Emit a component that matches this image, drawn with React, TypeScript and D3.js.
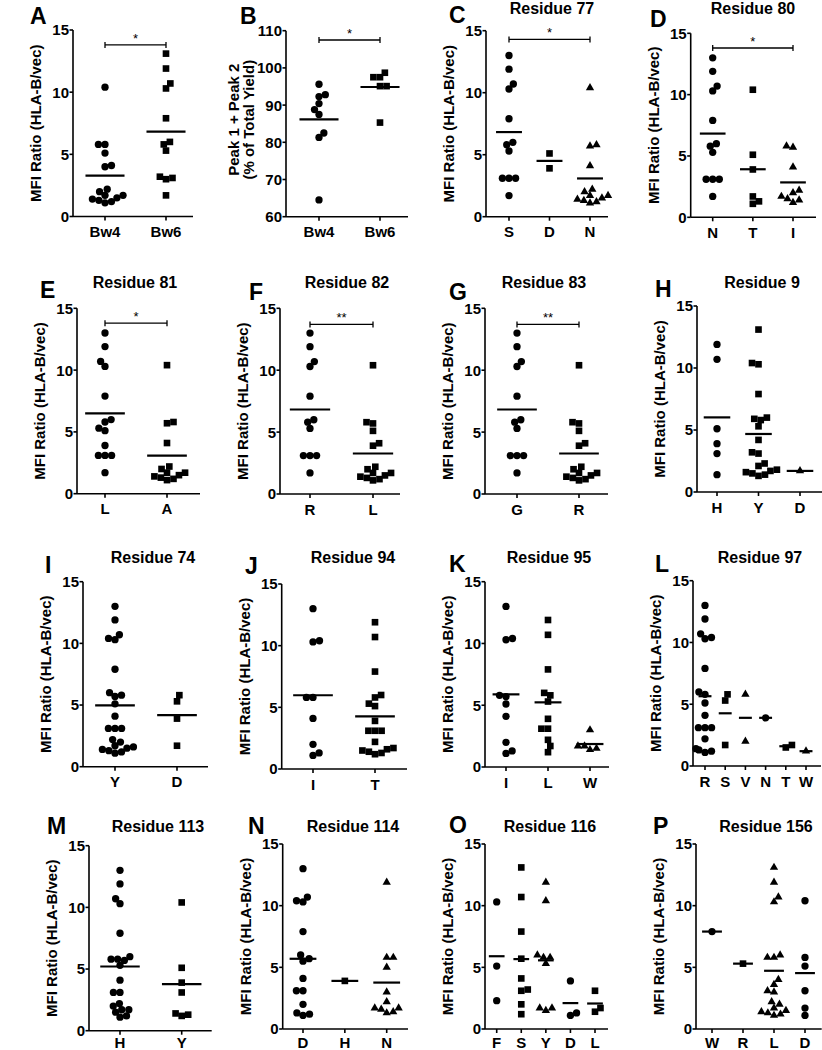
import React from 'react';
import * as d3 from 'd3';

// ---------- DATA ----------
const A_cats = ['Bw4', 'Bw6'];
const A_Bw4 = [10.4, 5.8, 5.8, 5.1, 4.1, 4.0, 2.2, 2.0, 1.7, 1.7, 1.5, 1.4, 1.3, 1.2, 1.1];
const A_Bw6 = [13.1, 11.9, 10.7, 10.3, 7.9, 6.0, 5.8, 5.3, 3.1, 3.0, 3.2, 1.7];

const B_cats = ['Bw4', 'Bw6'];
const B_Bw4 = [95.6, 92.8, 92.3, 90.4, 88.8, 87.5, 82.5, 81.3, 64.5];
const B_Bw6 = [98.7, 97.5, 97.5, 95.1, 95.1, 85.3];

const C_cats = ['S', 'D', 'N'];
const C_S = [13.0, 11.9, 10.7, 10.3, 7.9, 6.0, 5.8, 5.3, 3.1, 3.1, 3.1, 1.7];
const C_D = [5.1, 3.9];
const C_N = [10.4, 5.8, 5.7, 4.1, 2.2, 2.0, 1.7, 1.7, 1.5, 1.4, 1.3, 1.2, 1.1];

const D_cats = ['N', 'T', 'I'];
const D_N = [13.0, 11.9, 10.7, 10.3, 7.9, 6.0, 5.8, 5.3, 3.1, 3.1, 3.1, 1.7];
const D_T = [10.4, 5.1, 3.9, 1.7, 1.3, 1.1];
const D_I = [5.8, 5.7, 4.1, 2.2, 2.0, 1.7, 1.5, 1.4, 1.2];

const E_cats = ['L', 'A'];
const E_L = [13.0, 11.9, 10.7, 10.3, 7.9, 6.0, 5.8, 5.3, 5.1, 3.9, 3.1, 3.1, 3.1, 1.7];
const E_A = [10.4, 5.8, 5.7, 4.1, 2.2, 2.0, 1.7, 1.7, 1.5, 1.4, 1.3, 1.2, 1.1];

const F_cats = ['R', 'L'];
const F_R = [13.0, 11.9, 10.7, 10.3, 7.9, 6.0, 5.8, 5.3, 3.1, 3.1, 3.1, 1.7];
const F_L = [10.4, 5.8, 5.7, 5.1, 4.1, 3.9, 2.2, 2.0, 1.7, 1.7, 1.5, 1.4, 1.3, 1.2, 1.1];

const G_cats = ['G', 'R'];
const G_G = [13.0, 11.9, 10.7, 10.3, 7.9, 6.0, 5.8, 5.3, 3.1, 3.1, 3.1, 1.7];
const G_R = [10.4, 5.8, 5.7, 5.1, 4.1, 3.9, 2.2, 2.0, 1.7, 1.7, 1.5, 1.4, 1.3, 1.2, 1.1];

const H_cats = ['H', 'Y', 'D'];
const H_H = [11.9, 10.7, 5.1, 3.9, 3.1, 1.4];
const H_Y = [13.1, 10.4, 10.3, 7.9, 6.0, 5.9, 5.8, 5.3, 4.2, 3.2, 3.1, 2.3, 2.1, 1.8, 1.7, 1.6, 1.5, 1.4, 1.3];
const H_D = [1.7];

const I_cats = ['Y', 'D'];
const I_Y = [13.0, 11.9, 10.7, 10.4, 10.3, 7.9, 6.0, 5.8, 5.7, 5.1, 4.1, 3.1, 3.1, 3.1, 2.2, 2.0, 1.7, 1.6, 1.5, 1.4, 1.3, 1.2, 1.1];
const I_D = [5.8, 5.3, 3.9, 1.7];

const J_cats = ['I', 'T'];
const J_I = [13.0, 10.4, 10.3, 5.8, 5.8, 4.1, 2.0, 1.3, 1.1];
const J_T = [11.9, 10.7, 7.9, 6.0, 5.8, 5.3, 5.1, 3.9, 3.1, 3.1, 3.1, 2.2, 1.7, 1.6, 1.5, 1.4, 1.3, 1.2];

const K_cats = ['I', 'L', 'W'];
const K_I = [13.0, 10.4, 10.3, 5.8, 5.7, 5.1, 4.1, 2.0, 1.3, 1.1];
const K_L = [11.9, 10.7, 7.9, 6.0, 5.8, 5.3, 3.9, 3.1, 3.1, 2.2, 1.7, 1.2];
const K_W = [3.0, 1.7, 1.7, 1.5, 1.4];

const L_cats = ['R', 'S', 'V', 'N', 'T', 'W'];
const L_R = [13.0, 11.9, 10.7, 10.4, 10.3, 7.9, 6.0, 5.8, 5.1, 4.1, 3.1, 3.1, 3.1, 2.2, 1.4, 1.3, 1.2, 1.1];
const L_S = [5.8, 5.3, 1.7];
const L_V = [5.8, 2.0];
const L_N = [3.9];
const L_T = [1.7, 1.5];
const L_W = [1.2];

const M_cats = ['H', 'Y'];
const M_H = [13.0, 11.9, 10.7, 10.3, 7.9, 6.0, 5.8, 5.8, 5.7, 5.3, 4.1, 3.1, 3.1, 2.2, 2.0, 1.7, 1.7, 1.5, 1.2, 1.1];
const M_Y = [10.4, 5.1, 3.9, 3.1, 1.4, 1.2, 1.3];

const N_cats = ['D', 'H', 'N'];
const N_D = [13.0, 10.7, 10.4, 10.3, 7.9, 6.0, 5.7, 5.5, 4.1, 3.1, 3.1, 2.0, 1.3, 1.2, 1.1];
const N_H = [3.9];
const N_N = [11.9, 5.8, 5.8, 5.0, 3.0, 2.2, 1.7, 1.7, 1.6, 1.4, 1.3];

const O_cats = ['F', 'S', 'Y', 'D', 'L'];
const O_F = [10.3, 5.1, 2.3];
const O_S = [13.1, 10.7, 7.9, 5.7, 4.1, 3.2, 3.1, 2.0, 1.2];
const O_Y = [11.9, 10.4, 6.0, 5.8, 5.8, 5.3, 1.7, 1.7, 1.5];
const O_D = [3.9, 1.3, 1.1];
const O_L = [3.1, 1.7, 1.4];

const P_cats = ['W', 'R', 'L', 'D'];
const P_W = [7.9];
const P_R = [5.3];
const P_L = [13.1, 11.9, 10.7, 10.3, 6.0, 5.8, 5.8, 4.0, 3.6, 3.1, 3.0, 2.2, 2.0, 1.7, 1.5, 1.4, 1.3, 1.2, 1.1];
const P_D = [10.4, 5.8, 5.1, 3.1, 1.7, 1.1];

const MFI_TICKS = [0, 5, 10, 15];
const PEAK_TICKS = [60, 70, 80, 90, 100, 110];
const MFI_LABEL = ['MFI Ratio (HLA-B/vec)'];
const PEAK_LABEL = ['Peak 1 + Peak 2', '(% of Total Yield)'];

// ---------- LAYOUT ----------
type Panel = {
  letter: string; title?: string; cats: string[]; groups: number[][];
  domain: [number, number]; ticks: number[]; ylabel: string[];
  sig?: { a: number; b: number; v: number; text: string };
  ax0: number; ax1: number; t0: number; t1: number; yTop: number; yBot: number;
  lx: number; ly: number; tx?: number; ty?: number; maxFrac?: number;
};

const P15: [number, number] = [0, 15];
const panels: Panel[] = [
  { letter: 'A', cats: A_cats, groups: [A_Bw4, A_Bw6], domain: P15, ticks: MFI_TICKS, ylabel: MFI_LABEL,
    sig: { a: 0, b: 1, v: 13.8, text: '*' }, ax0: 73, ax1: 193, t0: 105, t1: 166, yTop: 30, yBot: 216.5, lx: 30, ly: 24 },
  { letter: 'B', cats: B_cats, groups: [B_Bw4, B_Bw6], domain: [60, 110], ticks: PEAK_TICKS, ylabel: PEAK_LABEL,
    sig: { a: 0, b: 1, v: 107.5, text: '*' }, ax0: 286, ax1: 408, t0: 319, t1: 380, yTop: 30.7, yBot: 216.7, lx: 240, ly: 24 },
  { letter: 'C', title: 'Residue 77', cats: C_cats, groups: [C_S, C_D, C_N], domain: P15, ticks: MFI_TICKS, ylabel: MFI_LABEL,
    sig: { a: 0, b: 2, v: 14.3, text: '*' }, ax0: 486, ax1: 608, t0: 509, t1: 590, yTop: 30.7, yBot: 216.7, lx: 449, ly: 23, tx: 552, ty: 14 },
  { letter: 'D', title: 'Residue 80', cats: D_cats, groups: [D_N, D_T, D_I], domain: P15, ticks: MFI_TICKS, ylabel: MFI_LABEL,
    sig: { a: 0, b: 2, v: 13.8, text: '*' }, ax0: 690.7, ax1: 816, t0: 712.7, t1: 793, yTop: 33.3, yBot: 217.3, lx: 650, ly: 26.7, tx: 753, ty: 14 },
  { letter: 'E', title: 'Residue 81', cats: E_cats, groups: [E_L, E_A], domain: P15, ticks: MFI_TICKS, ylabel: MFI_LABEL,
    sig: { a: 0, b: 1, v: 13.8, text: '*' }, ax0: 77, ax1: 200, t0: 105, t1: 167, yTop: 308.3, yBot: 493.7, lx: 40, ly: 298, tx: 135, ty: 288 },
  { letter: 'F', title: 'Residue 82', cats: F_cats, groups: [F_R, F_L], domain: P15, ticks: MFI_TICKS, ylabel: MFI_LABEL,
    sig: { a: 0, b: 1, v: 13.7, text: '**' }, ax0: 280, ax1: 400, t0: 310, t1: 373, yTop: 308.3, yBot: 494, lx: 249, ly: 300, tx: 347, ty: 288 },
  { letter: 'G', title: 'Residue 83', cats: G_cats, groups: [G_G, G_R], domain: P15, ticks: MFI_TICKS, ylabel: MFI_LABEL,
    sig: { a: 0, b: 1, v: 13.7, text: '**' }, ax0: 485, ax1: 608, t0: 517, t1: 579, yTop: 308.3, yBot: 494, lx: 449, ly: 300, tx: 544, ty: 288 },
  { letter: 'H', title: 'Residue 9', cats: H_cats, groups: [H_H, H_Y, H_D], domain: P15, ticks: MFI_TICKS, ylabel: MFI_LABEL,
    ax0: 697, ax1: 822, t0: 717, t1: 800, yTop: 306, yBot: 492, lx: 655, ly: 297, tx: 762, ty: 288 },
  { letter: 'I', title: 'Residue 74', cats: I_cats, groups: [I_Y, I_D], domain: P15, ticks: MFI_TICKS, ylabel: MFI_LABEL,
    ax0: 83, ax1: 208, t0: 115, t1: 177, yTop: 581.7, yBot: 766.7, lx: 45, ly: 572.7, tx: 153, ty: 563 },
  { letter: 'J', title: 'Residue 94', cats: J_cats, groups: [J_I, J_T], domain: P15, ticks: MFI_TICKS, ylabel: MFI_LABEL,
    ax0: 281.7, ax1: 407, t0: 313, t1: 375, yTop: 584, yBot: 769, lx: 245, ly: 574, tx: 353, ty: 563 },
  { letter: 'K', title: 'Residue 95', cats: K_cats, groups: [K_I, K_L, K_W], domain: P15, ticks: MFI_TICKS, ylabel: MFI_LABEL,
    ax0: 485, ax1: 609, t0: 506, t1: 590, yTop: 581.7, yBot: 767, lx: 449, ly: 572, tx: 549, ty: 563 },
  { letter: 'L', title: 'Residue 97', cats: L_cats, groups: [L_R, L_S, L_V, L_N, L_T, L_W], domain: P15, ticks: MFI_TICKS, ylabel: MFI_LABEL,
    ax0: 693, ax1: 821, t0: 705, t1: 806, yTop: 580.7, yBot: 766, lx: 655, ly: 572, tx: 760, ty: 563, maxFrac: 0.45 },
  { letter: 'M', title: 'Residue 113', cats: M_cats, groups: [M_H, M_Y], domain: P15, ticks: MFI_TICKS, ylabel: MFI_LABEL,
    ax0: 89, ax1: 211.7, t0: 120, t1: 181.7, yTop: 845.7, yBot: 1030.7, lx: 47, ly: 834, tx: 158, ty: 831.5 },
  { letter: 'N', title: 'Residue 114', cats: N_cats, groups: [N_D, N_H, N_N], domain: P15, ticks: MFI_TICKS, ylabel: MFI_LABEL,
    ax0: 282.7, ax1: 408, t0: 303, t1: 386.7, yTop: 844, yBot: 1029, lx: 248, ly: 834, tx: 353, ty: 831.5 },
  { letter: 'O', title: 'Residue 116', cats: O_cats, groups: [O_F, O_S, O_Y, O_D, O_L], domain: P15, ticks: MFI_TICKS, ylabel: MFI_LABEL,
    ax0: 485, ax1: 608, t0: 496.7, t1: 595, yTop: 844, yBot: 1029, lx: 449, ly: 833, tx: 550, ty: 831.5 },
  { letter: 'P', title: 'Residue 156', cats: P_cats, groups: [P_W, P_R, P_L, P_D], domain: P15, ticks: MFI_TICKS, ylabel: MFI_LABEL,
    ax0: 696, ax1: 821.7, t0: 712, t1: 805, yTop: 844, yBot: 1029, lx: 653, ly: 834, tx: 766, ty: 831.5 },
];

const FONT = '"Liberation Sans", Arial, Helvetica, sans-serif';
const SYMBOLS = [
  d3.symbol().type(d3.symbolCircle).size(42)(),
  d3.symbol().type(d3.symbolSquare).size(44)(),
  d3.symbol().type(d3.symbolTriangle).size(30)(),
];

function swarm(vals: number[], y: (v: number) => number, D: number, maxHalf: number) {
  const pts = vals.map((v, i) => ({ v, i, py: y(v), x: 0 })).sort((a, b) => b.py - a.py);
  const placed: { py: number; x: number; v: number }[] = [];
  let flip = 1;
  for (const p of pts) {
    const ivs: [number, number][] = [];
    for (const q of placed) {
      const dy = Math.abs(q.py - p.py);
      if (dy < D) {
        const w = Math.sqrt(D * D - dy * dy);
        ivs.push([q.x - w, q.x + w]);
      }
    }
    const cands = [0];
    ivs.forEach(([a, b]) => cands.push(a, b));
    const ok = cands.filter((c) => ivs.every(([a, b]) => c <= a + 1e-6 || c >= b - 1e-6));
    const best = Math.min(...ok.map((c) => Math.abs(c)));
    const ties = ok.filter((c) => Math.abs(Math.abs(c) - best) < 1e-6);
    let x = ties[0];
    const hasPos = ties.some((c) => c > 1e-6);
    const hasNeg = ties.some((c) => c < -1e-6);
    if (hasPos && hasNeg) {
      x = flip > 0 ? Math.max(...ties) : Math.min(...ties);
      flip = -flip;
    }
    x = Math.max(-maxHalf, Math.min(maxHalf, x));
    placed.push({ py: p.py, x, v: p.v });
  }
  return placed;
}

function PanelView({ p }: { p: Panel }) {
  const y = d3.scaleLinear().domain(p.domain).range([p.yBot, p.yTop]);
  const x = d3.scalePoint<string>().domain(p.cats).range([p.t0, p.t1]);
  const step = p.cats.length > 1 ? (p.t1 - p.t0) / (p.cats.length - 1) : 60;
  const maxHalf = step * (p.maxFrac ?? 0.5);
  const halfMean = step * 0.32;
  const yMid = (p.yTop + p.yBot) / 2;
  const catLabelY = Math.min(p.yBot + 20.5, 1047.5);
  return (
    <g>
      <text x={p.lx} y={p.ly} fontSize={23} fontWeight="bold" fontFamily={FONT}>{p.letter}</text>
      {p.title && (
        <text x={p.tx} y={p.ty} fontSize={16} fontWeight="bold" fontFamily={FONT} textAnchor="middle">{p.title}</text>
      )}
      {p.ylabel.map((line, i) => {
        const n = p.ylabel.length;
        const off = n === 1 ? 32 : 32 + (n - 1 - i) * 15;
        return (
          <text key={i} transform={`translate(${p.ax0 - off},${n === 1 ? yMid : yMid - 4}) rotate(-90)`}
            fontSize={15} fontWeight="bold" fontFamily={FONT} textAnchor="middle">{line}</text>
        );
      })}
      {/* axes */}
      <line x1={p.ax0} x2={p.ax0} y1={p.yTop} y2={p.yBot} stroke="#000" strokeWidth={1.6} />
      <line x1={p.ax0} x2={p.ax1} y1={p.yBot} y2={p.yBot} stroke="#000" strokeWidth={1.6} />
      {p.ticks.map((t) => (
        <g key={t}>
          <line x1={p.ax0 - 3.5} x2={p.ax0} y1={y(t)} y2={y(t)} stroke="#000" strokeWidth={1.6} />
          <text x={p.ax0 - 4} y={y(t)} dy="0.36em" fontSize={15} fontWeight="bold" fontFamily={FONT} textAnchor="end">{t}</text>
        </g>
      ))}
      {p.cats.map((c) => (
        <g key={c}>
          <line x1={x(c)} x2={x(c)} y1={p.yBot} y2={p.yBot + 4} stroke="#000" strokeWidth={1.6} />
          <text x={x(c)} y={catLabelY} fontSize={15} fontWeight="bold" fontFamily={FONT} textAnchor="middle">{c}</text>
        </g>
      ))}
      {/* points */}
      {p.groups.map((vals, gi) => {
        const cx = x(p.cats[gi])!;
        const pts = swarm(vals, (v) => y(v), 6.6, maxHalf);
        const m = d3.mean(vals)!;
        return (
          <g key={gi}>
            {pts.map((pt, k) => (
              <path key={k} d={SYMBOLS[gi % 3]!} transform={`translate(${cx + pt.x},${pt.py})`} fill="#000" />
            ))}
            <line x1={cx - halfMean} x2={cx + halfMean} y1={y(m)} y2={y(m)} stroke="#000" strokeWidth={2.2} />
          </g>
        );
      })}
      {p.sig && (() => {
        const xa = x(p.cats[p.sig.a])!;
        const xb = x(p.cats[p.sig.b])!;
        const yy = y(p.sig.v);
        return (
          <g>
            <line x1={xa} x2={xb} y1={yy} y2={yy} stroke="#000" strokeWidth={1.3} />
            <line x1={xa} x2={xa} y1={yy - 3} y2={yy + 3} stroke="#000" strokeWidth={1.3} />
            <line x1={xb} x2={xb} y1={yy - 3} y2={yy + 3} stroke="#000" strokeWidth={1.3} />
            <text x={(xa + xb) / 2} y={yy - 2} fontSize={13} fontFamily={FONT} textAnchor="middle">{p.sig.text}</text>
          </g>
        );
      })()}
    </g>
  );
}

export default function App() {
  return (
    <svg width={822} height={1050} style={{ position: 'absolute', left: 0, top: 0, background: '#fff' }}>
      <rect x={0} y={0} width={822} height={1050} fill="#fff" />
      {panels.map((p) => <PanelView key={p.letter} p={p} />)}
    </svg>
  );
}
